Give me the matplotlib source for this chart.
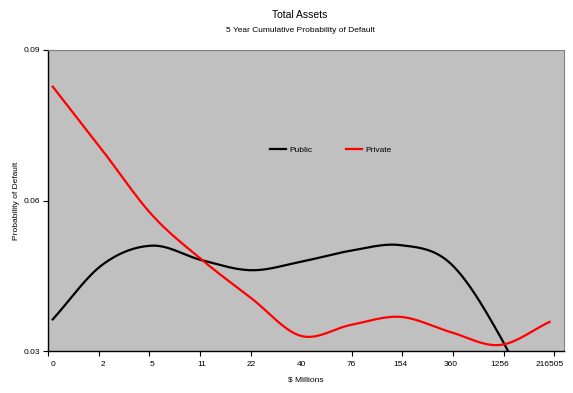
import numpy as np
import matplotlib.pyplot as plt

# data
categories = ['0', '2', '5', '11', '22', '40', '76', '154', '360', '1256', '216505']
public = [0.0363, 0.0472, 0.0510, 0.0481, 0.0461, 0.0478, 0.0500, 0.0511, 0.0475, 0.0330, 0.0125]
private = [0.0827, 0.0700, 0.0571, 0.0482, 0.0405, 0.0330, 0.0352, 0.0368, 0.0338, 0.0312, 0.0358]
yticks = [0.03, 0.06, 0.09]


def smooth(y, n=30):
    # excel style smoothed line (catmull-rom through the points)
    y = np.asarray(y, dtype=float)
    p = np.concatenate([[2 * y[0] - y[1]], y, [2 * y[-1] - y[-2]]])
    xs, ys = [], []
    for i in range(len(y) - 1):
        p0, p1, p2, p3 = p[i], p[i + 1], p[i + 2], p[i + 3]
        t = np.linspace(0, 1, n, endpoint=False)
        c1 = p1 + (p2 - p0) / 6
        c2 = p2 - (p3 - p1) / 6
        b = (1 - t) ** 3 * p1 + 3 * (1 - t) ** 2 * t * c1 + 3 * (1 - t) * t ** 2 * c2 + t ** 3 * p2
        xs.append(i + t)
        ys.append(b)
    xs.append([len(y) - 1])
    ys.append([y[-1]])
    return np.concatenate(xs), np.concatenate(ys)


plt.rcParams['font.family'] = ['Liberation Sans', 'DejaVu Sans']

fig = plt.figure(figsize=(5.73, 3.93), dpi=100)
ax = fig.add_axes([48 / 573, 42 / 393, 516 / 573, 301 / 393])
ax.set_facecolor('#C0C0C0')

x = np.arange(len(categories))
xs, ys = smooth(public)
ax.plot(xs, ys, color='black', lw=1.6, label='Public')
xs, ys = smooth(private)
ax.plot(xs, ys, color='#FF0000', lw=1.6, label='Private')

ax.set_xlim(-0.095, 10.29)
ax.set_ylim(0.03, 0.09)
ax.set_yticks(yticks)
ax.set_yticklabels(['0.03', '0.06', '0.09'], fontsize=6)
ax.set_xticks(x)
ax.set_xticklabels(categories, fontsize=6)
ax.tick_params(axis='x', length=0, pad=7)
ax.set_xticks(np.arange(len(categories)) * 1.019 - 0.095, minor=True)
ax.tick_params(axis='x', which='minor', direction='out', length=3.5, width=0.8)
ax.tick_params(axis='y', direction='out', length=3.5, width=0.8, pad=2)

for s in ['top', 'right']:
    ax.spines[s].set_color('#808080')
for s in ['left', 'bottom']:
    ax.spines[s].set_color('black')
    ax.spines[s].set_linewidth(1.0)

ax.set_xlabel('$ Millions', fontsize=6, labelpad=6)
ax.set_ylabel('Probability of Default', fontsize=6, labelpad=3)

fig.text(0.5236, 1 - 15 / 393, 'Total Assets', ha='center', va='center', fontsize=7.5)
fig.text(0.5236, 1 - 31 / 393, '5 Year Cumulative Probability of Default', ha='center', va='center', fontsize=6)

ax.legend(loc='center', bbox_to_anchor=(0.548, 0.668), ncol=2, frameon=False,
          fontsize=6, handlelength=1.9, columnspacing=4, handletextpad=0.4)

fig.savefig('out.png', dpi=100)
